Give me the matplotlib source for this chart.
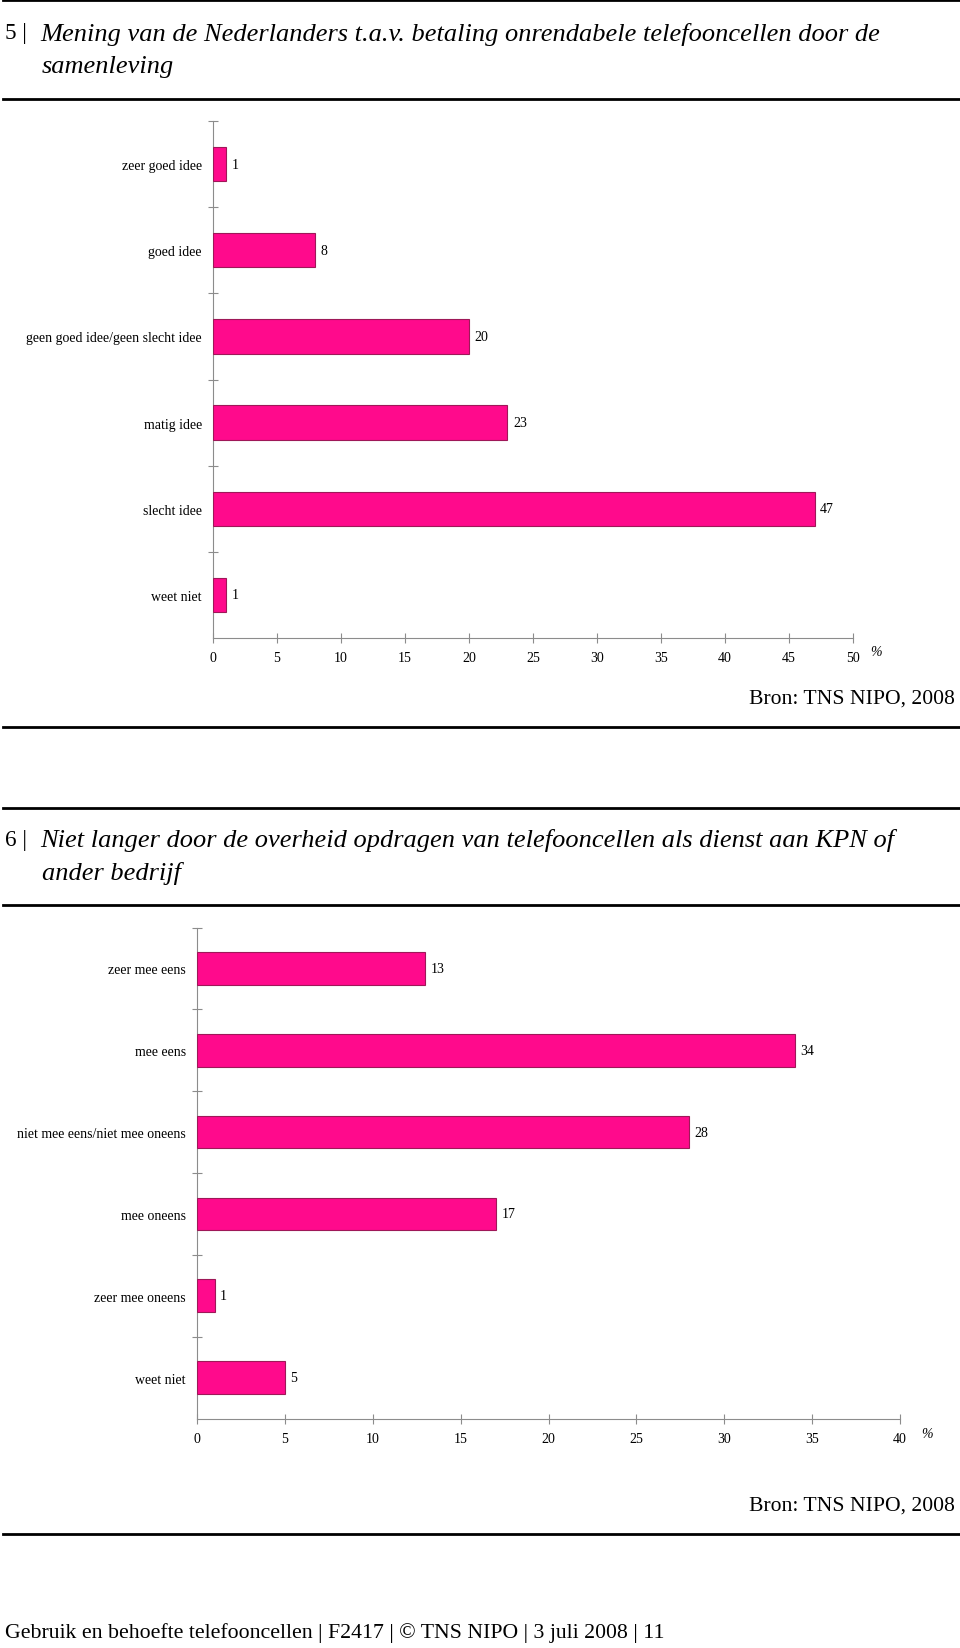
import matplotlib
matplotlib.use("Agg")
import matplotlib.pyplot as plt
from matplotlib.lines import Line2D

# ---------------- data ----------------
cats1 = ["zeer goed idee", "goed idee", "geen goed idee/geen slecht idee",
         "matig idee", "slecht idee", "weet niet"]
vals1 = [1, 8, 20, 23, 47, 1]
xticks1 = [0, 5, 10, 15, 20, 25, 30, 35, 40, 45, 50]

cats2 = ["zeer mee eens", "mee eens", "niet mee eens/niet mee oneens",
         "mee oneens", "zeer mee oneens", "weet niet"]
vals2 = [13, 34, 28, 17, 1, 5]
xticks2 = [0, 5, 10, 15, 20, 25, 30, 35, 40]

title1 = ["5 |", "Mening van de Nederlanders t.a.v. betaling onrendabele telefooncellen door de",
          "samenleving"]
title2 = ["6 |", "Niet langer door de overheid opdragen van telefooncellen als dienst aan KPN of",
          "ander bedrijf"]
source = "Bron: TNS NIPO, 2008"
footer = "Gebruik en behoefte telefooncellen | F2417 | © TNS NIPO | 3 juli 2008 | 11"

# ---------------- style ----------------
W, H = 960, 1649
SERIF = ["Liberation Serif", "DejaVu Serif"]
PINK = "#FF0A8C"
EDGE = "#9E1858"
AXC = "#8C8C8C"
FS = 10

fig = plt.figure(figsize=(W / 100, H / 100), dpi=100)
fig.patch.set_facecolor("white")
renderer = fig.canvas.get_renderer()


def fx(x):
    return x / W


def fy(y):
    return 1 - y / H


def hline(y, lw=2.0):
    fig.add_artist(Line2D([fx(3), fx(960)], [fy(y), fy(y)], color="black", lw=lw,
                          transform=fig.transFigure))


def fit_text(x, y, s, target_w, ha="left", va="center", style="normal", base=12):
    t = fig.text(fx(x), fy(y), s, ha=ha, va=va, fontsize=base, family=SERIF, style=style)
    w = t.get_window_extent(renderer).width
    t.set_fontsize(base * target_w / w)
    return t


def section(top_line, t_lines, title_y1, title_y2, title_w, bottom_title_line,
            cats, vals, xticks, ax_left, ax_right, ax_top, ax_bottom,
            pct_xy, src_y, end_line):
    hline(top_line)
    fit_text(5, title_y1, t_lines[0], 22, style="normal")
    t = fit_text(40, title_y1, t_lines[1], title_w, style="italic")
    fs = t.get_fontsize()
    fig.text(fx(42), fy(title_y2), t_lines[2], ha="left", va="center", fontsize=fs,
             family=SERIF, style="italic")
    hline(bottom_title_line)

    ax = fig.add_axes([fx(ax_left), fy(ax_bottom), fx(ax_right - ax_left),
                       (ax_bottom - ax_top) / H])
    n = len(cats)
    ypos = list(range(n))
    ax.barh(ypos, vals, height=0.4, color=PINK, edgecolor=EDGE, linewidth=0.8, zorder=3)
    ax.set_xlim(xticks[0], xticks[-1])
    ax.set_ylim(n - 0.5, -0.5)
    for sp in ["top", "right"]:
        ax.spines[sp].set_visible(False)
    for sp in ["left", "bottom"]:
        ax.spines[sp].set_color(AXC)
        ax.spines[sp].set_linewidth(0.8)
    ax.set_xticks(xticks)
    ax.set_xticklabels([str(v) for v in xticks], family=SERIF, fontsize=FS)
    ax.tick_params(axis="x", direction="inout", length=7, width=0.8, color=AXC, pad=6)
    ax.set_yticks(ypos)
    ax.set_yticklabels(cats, family=SERIF, fontsize=FS)
    ax.tick_params(axis="y", which="major", length=0, pad=8)
    ax.set_yticks([i - 0.5 for i in range(n)], minor=True)
    ax.tick_params(axis="y", which="minor", direction="inout", length=7, width=0.8, color=AXC)
    for yv, v in zip(ypos, vals):
        ax.annotate(str(v), xy=(v, yv), xytext=(4, 0), textcoords="offset points",
                    ha="left", va="center", family=SERIF, fontsize=FS)
    fig.text(fx(pct_xy[0]), fy(pct_xy[1]), "%", ha="left", va="center",
             family=SERIF, fontsize=FS, style="italic")
    fit_text(955, src_y, source, 204, ha="right")
    hline(end_line)


section(1, title1, 34, 67, 838, 100, cats1, vals1, xticks1,
        213, 853, 122, 639, (870, 653), 699, 728)
section(809, title2, 841, 874, 852, 906, cats2, vals2, xticks2,
        197, 900, 928.5, 1419.5, (921, 1435), 1506, 1535)

fit_text(5, 1633, footer, 657, ha="left")

fig.savefig("out.png", dpi=100, facecolor="white")
